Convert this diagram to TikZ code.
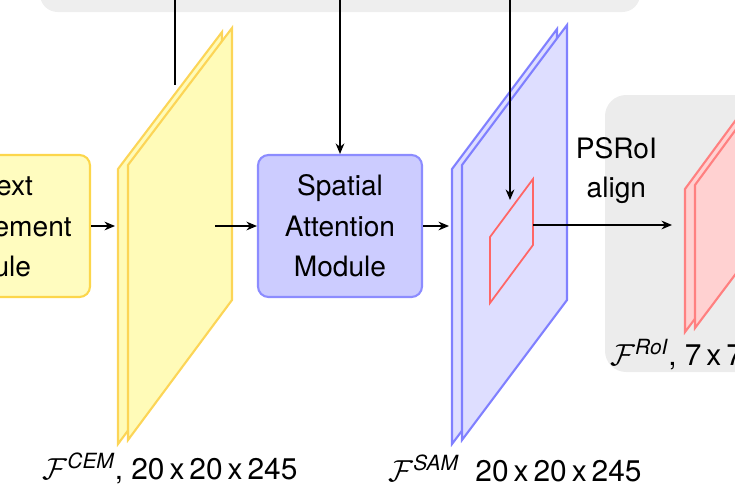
\documentclass[tikz,border=0pt]{standalone}
\usepackage{amsmath}
\usepackage{fontspec}
\setmainfont{TeX Gyre Heros}
\usetikzlibrary{positioning,arrows.meta}
\tikzset{
  module/.style={draw, rounded corners=6pt, line width=1.2pt, align=center, font=\fontsize{16}{23}\selectfont},
  conn/.style={-{Stealth[length=6pt,width=5pt]}, line width=0.7pt},
  lbl/.style={font=\fontsize{17}{20}\selectfont, inner sep=0pt},
}
% slab: fill, border, x1, y1 bottom, y1 top, x2, y2 bottom, y2 top
\newcommand{\slab}[8]{%
  \draw[#2, fill=#1, line width=1.2pt] (#3-0.2,#4-0.08) -- (#3-0.2,#5-0.08) -- (#6-0.2,#8-0.08) -- (#6-0.2,#7-0.08) -- cycle;
  \draw[#2, fill=#1, line width=1.2pt] (#3,#4) -- (#3,#5) -- (#6,#8) -- (#6,#7) -- cycle;
}
\newcommand{\feat}[1]{$\mathcal{F}^{\textit{#1}}$}
\begin{document}
\begin{tikzpicture}[x=1cm,y=1cm]
\useasboundingbox (0,-5.04) rectangle (14.7,5);
\clip (0,-5.04) rectangle (14.7,5);
% top group box
\fill[gray!13, rounded corners=10pt] (0.8,4.76) rectangle (12.8,6);
% right group box
\fill[gray!15, rounded corners=12pt] (12.1,-2.44) rectangle (15.5,3.1);
% modules
\node[module, fill=yellow!25, draw=yellow!60!orange!70, minimum width=4.2cm, minimum height=2.84cm] (cem) at (-0.3,0.48) {Context\\Enhancement\\Module};
\slab{yellow!28}{yellow!55!orange!65}{2.56}{-3.8}{1.7}{4.64}{-1.0}{4.44}
\node[module, fill=blue!20, draw=blue!45, minimum width=3.28cm, minimum height=2.84cm] (sam) at (6.8,0.48) {Spatial\\Attention\\Module};
\slab{blue!13}{blue!50}{9.24}{-3.8}{1.7}{11.34}{-1.0}{4.5}
\slab{red!18}{red!50}{13.9}{-1.56}{1.3}{15.3}{0.3}{3.2}
% roi on the SAM map
\draw[red!60, line width=1pt] (9.8,-1.06) -- (9.8,0.26) -- (10.66,1.42) -- (10.66,0.1) -- cycle;
\coordinate (roi) at (10.66,0.5);
\coordinate (roitop) at (10.2,1.0);
\coordinate (ptop) at (10.2,5.1);
\coordinate (stop) at (6.8,5.1);
\coordinate (ctop) at (3.5,5.1);
\coordinate (cend) at (3.5,3.3);
\coordinate (slabin) at (2.3,0.48);
\coordinate (slabout) at (4.3,0.48);
\coordinate (samin) at (8.98,0.48);
\coordinate (redin) at (13.44,0.5);
\draw[line width=0.7pt] (ctop) -- (cend);
\draw[conn] (stop) -- (sam.north);
\draw[conn] (ptop) -- (roitop);
\draw[conn] (cem.east |- slabin) -- (slabin);
\draw[conn] (slabout) -- (sam.west |- slabout);
\draw[conn] (sam.east |- samin) -- (samin);
\draw[conn] (roi) -- (redin) node[pos=0.6, above=0.3cm, align=center, font=\fontsize{16}{22}\selectfont] (psroi) {PSRoI\\align};
% labels
\node[lbl] (lcem) at (3.4,-4.36) {\feat{CEM}, 20\,x\,20\,x\,245};
\node[lbl] (lsam) at (10.3,-4.36) {\feat{SAM}\ \ 20\,x\,20\,x\,245};
\node[lbl, anchor=west] (lroi) at (12.2,-2.1) {\feat{RoI}, 7\,x\,7};
\end{tikzpicture}
\end{document}
